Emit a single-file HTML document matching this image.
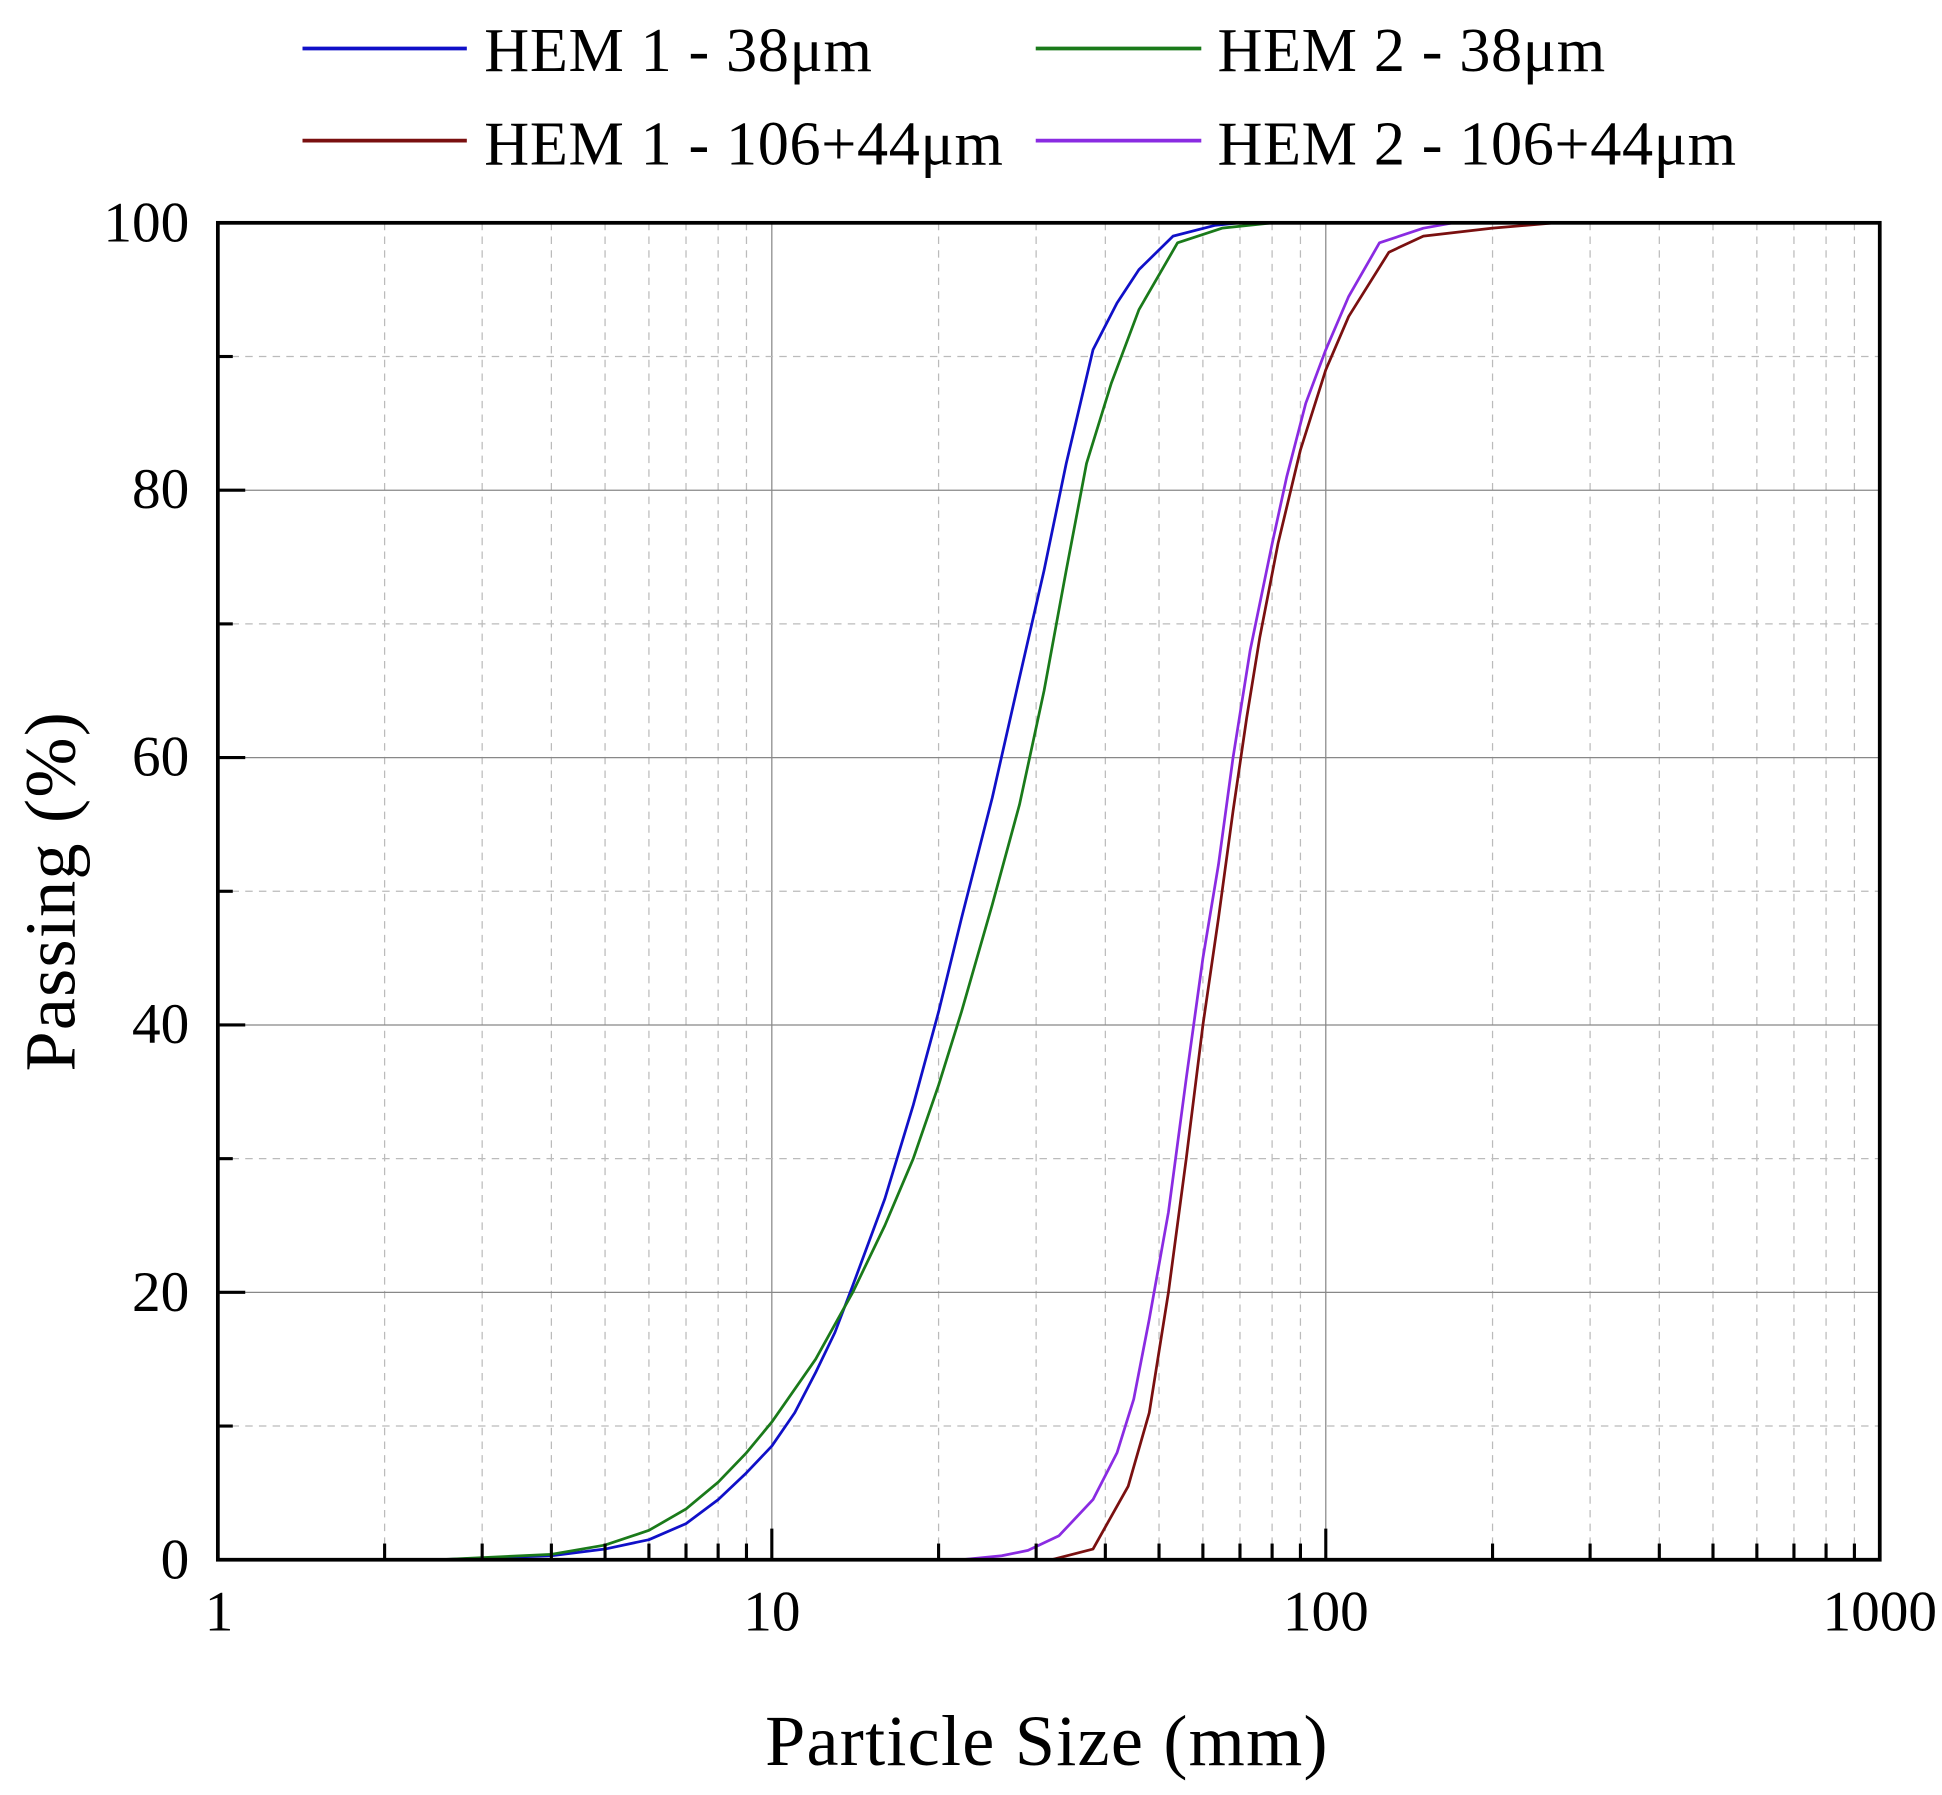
<!DOCTYPE html>
<html><head><meta charset="utf-8"><style>
html,body{margin:0;padding:0;background:#fff}
svg{display:block}
text{font-family:"Liberation Serif",serif;fill:#000}
</style></head><body>
<svg id="s" width="1942" height="1795" viewBox="0 0 1560 1442" preserveAspectRatio="none" xmlns="http://www.w3.org/2000/svg">
<g id="grid"></g>
<g id="curves" fill="none" stroke-width="2.2" stroke-linejoin="round"></g>
<rect x="175" y="179" width="1335" height="1074" fill="none" stroke="#000" stroke-width="3"/>
<g id="ticks" stroke="#000" stroke-width="2.5"></g>
<g font-size="46" text-anchor="end">
<text x="152" y="194">100</text><text x="152" y="408">80</text><text x="152" y="623">60</text>
<text x="152" y="838">40</text><text x="152" y="1053">20</text><text x="152" y="1268">0</text>
</g>
<g font-size="46" text-anchor="middle">
<text x="176" y="1310">1</text><text x="620" y="1310">10</text><text x="1065" y="1310">100</text><text x="1510" y="1310">1000</text>
</g>
<text x="841" y="1418" font-size="58" text-anchor="middle" letter-spacing="1">Particle Size (mm)</text>
<text transform="translate(60,716) rotate(-90)" font-size="58" text-anchor="middle" letter-spacing="1">Passing (%)</text>
<g stroke-width="3">
<line x1="243" y1="39" x2="375" y2="39" stroke="#1010c8"/>
<line x1="832" y1="39" x2="965" y2="39" stroke="#1a7a1a"/>
<line x1="243" y1="113" x2="375" y2="113" stroke="#7a1010"/>
<line x1="832" y1="113" x2="965" y2="113" stroke="#8a2be2"/>
</g>
<g font-size="50" letter-spacing="0.5">
<text x="389" y="57">HEM 1 - 38μm</text>
<text x="978" y="57">HEM 2 - 38μm</text>
<text x="389" y="132">HEM 1 - 106+44μm</text>
<text x="978" y="132">HEM 2 - 106+44μm</text>
</g>
</svg>
<script>
const NS="http://www.w3.org/2000/svg";
const X=v=>175+445*Math.log10(v), Y=p=>1253-p*10.74;
function el(p,t,a){const e=document.createElementNS(NS,t);for(const k in a)e.setAttribute(k,a[k]);p.appendChild(e);return e;}
const g=document.getElementById('grid'),tk=document.getElementById('ticks'),cv=document.getElementById('curves');
for(let d=1;d<=100;d*=10)for(let m=1;m<=9;m++){const v=d*m,x=X(v);
 if(m==1){if(d>1)el(g,'line',{x1:x,x2:x,y1:179,y2:1253,stroke:'#888','stroke-width':1});
   el(tk,'line',{x1:x,x2:x,y1:1253,y2:1228});}
 else{el(g,'line',{x1:x,x2:x,y1:179,y2:1253,stroke:'#bbb','stroke-width':1,'stroke-dasharray':'6,5'});
   el(tk,'line',{x1:x,x2:x,y1:1253,y2:1240});}}
for(let p=10;p<100;p+=10){const y=Y(p);
 if(p%20==0){el(g,'line',{x1:175,x2:1510,y1:y,y2:y,stroke:'#888','stroke-width':1});el(tk,'line',{x1:175,x2:197,y1:y,y2:y});}
 else{el(g,'line',{x1:175,x2:1510,y1:y,y2:y,stroke:'#bbb','stroke-width':1,'stroke-dasharray':'6,5'});el(tk,'line',{x1:175,x2:187,y1:y,y2:y});}}
const S={
'#1010c8':[[2.5,0],[4,0.3],[5,0.8],[6,1.5],[7,2.7],[8,4.5],[9,6.5],[10,8.5],[11,11],[12,14],[13,17],[14,20.5],[16,27],[18,34],[20,41],[22,48],[25,57],[28,66],[31,74],[34,82],[38,90.5],[42,94],[46,96.5],[53,99],[63,99.8],[70,100],[1000,100]],
'#1a7a1a':[[2.5,0],[4,0.4],[5,1.1],[6,2.2],[7,3.8],[8,5.8],[9,8],[10,10.3],[12,15],[14,20],[16,25],[18,30],[20,35.5],[22,41],[25,49],[28,56.5],[31,65],[34,74],[37,82],[41,88],[46,93.5],[54,98.5],[65,99.6],[80,100],[1000,100]],
'#7a1010':[[32,0],[38,0.8],[44,5.5],[48,11],[52,20],[56,30],[60,40],[64,48],[68,56],[72,63],[76,69],[82,76],[90,83],[100,89],[110,93],[130,97.8],[150,99],[200,99.6],[260,100],[1000,100]],
'#8a2be2':[[22,0],[26,0.3],[29,0.7],[33,1.8],[38,4.5],[42,8],[45,12],[48,18],[52,26],[56,36],[60,45],[64,52],[68,60],[73,68],[80,76],[85,81],[92,86.5],[100,90.5],[110,94.5],[125,98.5],[150,99.6],[170,100],[1000,100]]};
for(const c in S)el(cv,'polyline',{stroke:c,points:S[c].map(([v,p])=>X(v).toFixed(1)+','+Y(p).toFixed(1)).join(' ')});
</script>
</body></html>
